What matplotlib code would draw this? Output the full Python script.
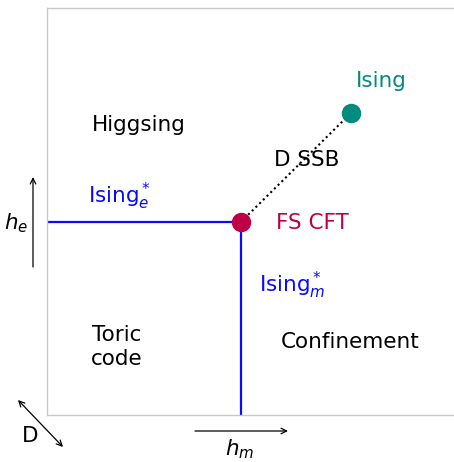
import matplotlib
matplotlib.use("Agg")
import matplotlib.pyplot as plt

# Phase diagram in the (h_m, h_e) plane, coordinates in units of the plot box
fs_cft = (0.475, 0.474)          # multicritical point
ising_pt = (0.745, 0.742)        # end of the D-SSB line

# Blue Ising* transition lines
ising_e_x = [0.0, fs_cft[0]]
ising_e_y = [fs_cft[1], fs_cft[1]]
ising_m_x = [fs_cft[0], fs_cft[0]]
ising_m_y = [0.0, fs_cft[1]]

# Phase labels and their positions
phase_names = ["Higgsing", "D SSB", "Toric\ncode", "Confinement"]
phase_pos = [(0.225, 0.713), (0.637, 0.627), (0.172, 0.167), (0.743, 0.179)]

BLUE = "#0a0aff"
CRIMSON = "#bf0045"
TEAL = "#008b80"
SPINE = "#c8c8c8"

plt.rcParams["mathtext.fontset"] = "dejavusans"
plt.rcParams["font.family"] = ["DejaVu Sans"]

fig = plt.figure(figsize=(4.54, 4.62), dpi=100)
ax = fig.add_axes([47 / 454, 47 / 462, 408 / 454, 407 / 462])
ax.set_xlim(0, 1)
ax.set_ylim(0, 1)
ax.set_xticks([])
ax.set_yticks([])
for side in ["left", "bottom", "top"]:
    ax.spines[side].set_color(SPINE)
    ax.spines[side].set_linewidth(1.0)
ax.spines["right"].set_visible(False)

fs = 15.5

ax.plot(ising_e_x, ising_e_y, color=BLUE, lw=1.6, solid_capstyle="butt")
ax.plot(ising_m_x, ising_m_y, color=BLUE, lw=1.6, solid_capstyle="butt")
ax.plot([fs_cft[0], ising_pt[0]], [fs_cft[1], ising_pt[1]], color="black",
        lw=1.5, linestyle=(0, (1, 1.5)))
ax.plot(*fs_cft, "o", color=CRIMSON, ms=13, zorder=5)
ax.plot(*ising_pt, "o", color=TEAL, ms=13, zorder=5)

for name, (x, y) in zip(phase_names, phase_pos):
    ax.text(x, y, name, ha="center", va="center", fontsize=fs, color="black",
            linespacing=1.25)

ax.text(0.819, 0.821, "Ising", ha="center", va="center", fontsize=fs, color=TEAL)
ax.text(0.561, 0.472, "FS CFT", ha="left", va="center", fontsize=fs, color=CRIMSON)
ax.text(0.179, 0.538, r"Ising$^*_e$", ha="center", va="center", fontsize=fs, color=BLUE)
ax.text(0.520, 0.319, r"Ising$^*_m$", ha="left", va="center", fontsize=fs, color=BLUE)

# Parameter directions outside the box
arrow = dict(arrowstyle="->", lw=0.9, color="black", shrinkA=0, shrinkB=0)
ax.annotate("", xy=(33 / 454, 1 - 177 / 462), xytext=(33 / 454, 1 - 267 / 462),
            xycoords="figure fraction", textcoords="figure fraction",
            arrowprops=arrow, annotation_clip=False)
ax.annotate("", xy=(288 / 454, 1 - 431 / 462), xytext=(195 / 454, 1 - 431 / 462),
            xycoords="figure fraction", textcoords="figure fraction",
            arrowprops=arrow, annotation_clip=False)
ax.annotate("", xy=(63 / 454, 1 - 447 / 462), xytext=(18 / 454, 1 - 400 / 462),
            xycoords="figure fraction", textcoords="figure fraction",
            arrowprops=dict(arrowstyle="<->", lw=0.9, color="black",
                            shrinkA=0, shrinkB=0), annotation_clip=False)

fig.text(16 / 454, 1 - 223 / 462, r"$h_e$", ha="center", va="center", fontsize=fs)
fig.text(240 / 454, 1 - 449 / 462, r"$h_m$", ha="center", va="center", fontsize=fs)
fig.text(30 / 454, 1 - 436 / 462, "D", ha="center", va="center", fontsize=fs)

fig.savefig("out.png", dpi=100)
